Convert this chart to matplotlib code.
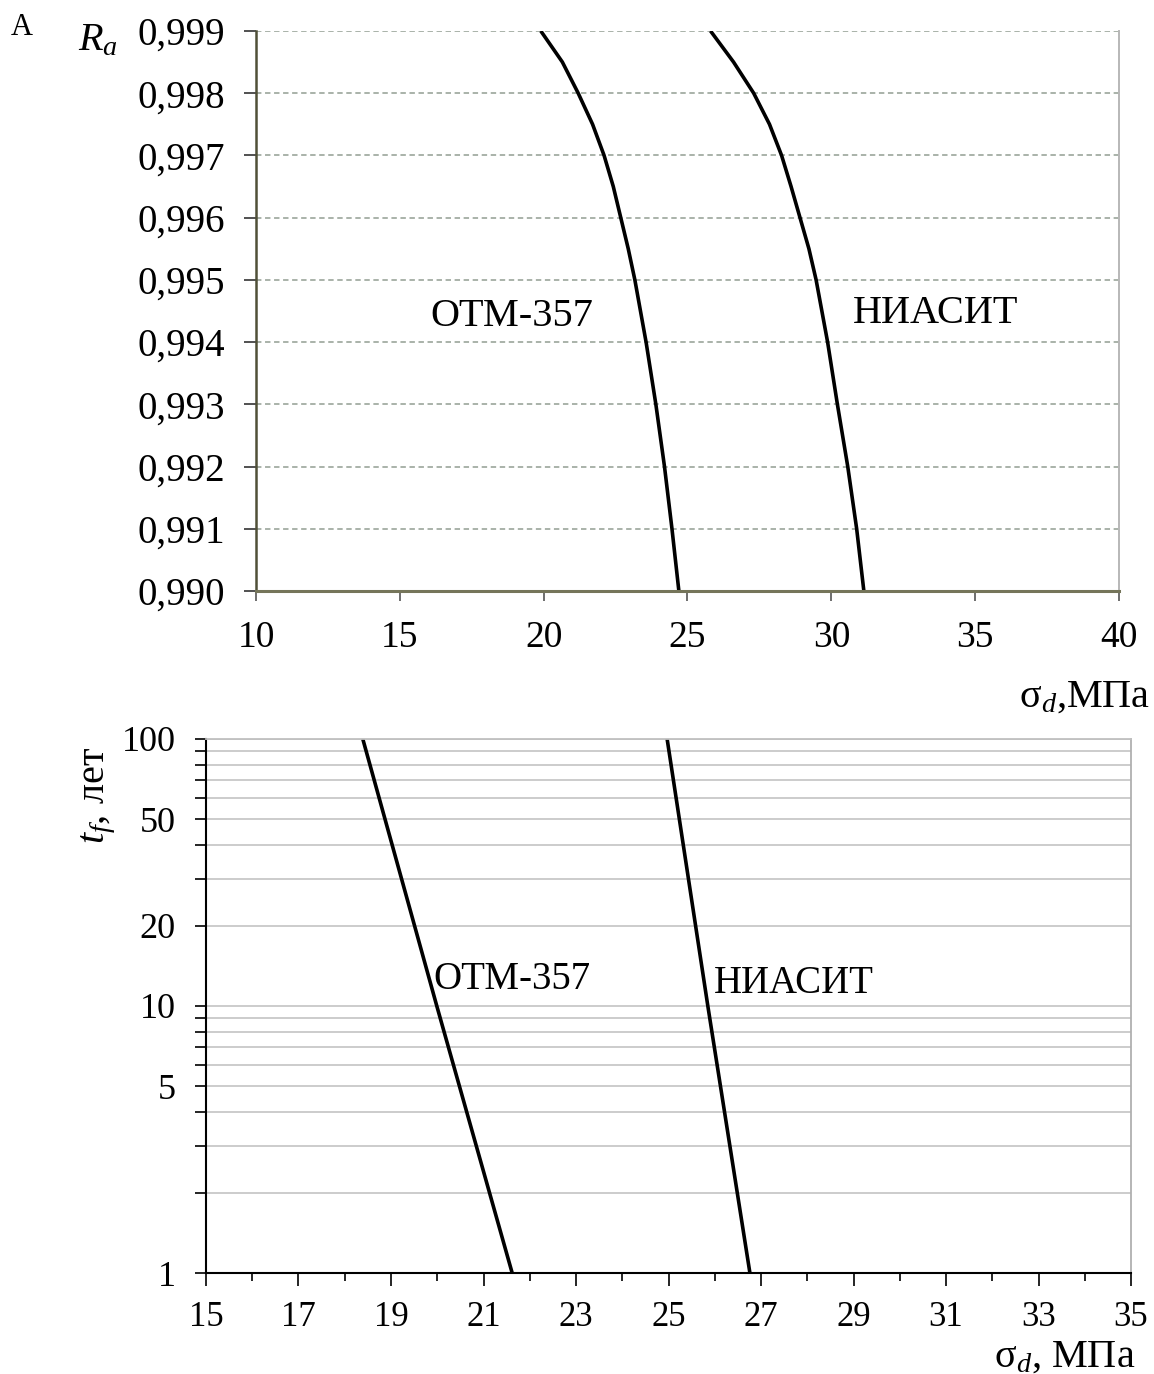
import matplotlib
matplotlib.use('Agg')
import matplotlib.pyplot as plt

plt.rcParams['font.family'] = ['Liberation Serif', 'DejaVu Serif']
plt.rcParams['mathtext.fontset'] = 'custom'
plt.rcParams['mathtext.rm'] = 'Liberation Serif'
plt.rcParams['mathtext.it'] = 'Liberation Serif:italic'

# --- panel A: reliability vs stress ---
ra_levels = [0.999, 0.9985, 0.998, 0.9975, 0.997, 0.9965, 0.996, 0.9955, 0.995, 0.994, 0.993, 0.992, 0.991, 0.990]
otm_stress_top = [19.90, 20.65, 21.20, 21.70, 22.10, 22.42, 22.68, 22.94, 23.17, 23.56, 23.90, 24.20, 24.46, 24.70]
niasit_stress_top = [25.80, 26.60, 27.30, 27.85, 28.27, 28.60, 28.91, 29.22, 29.47, 29.87, 30.21, 30.57, 30.88, 31.13]
top_yticks = [0.990, 0.991, 0.992, 0.993, 0.994, 0.995, 0.996, 0.997, 0.998, 0.999]
top_ylabels = ['0,990', '0,991', '0,992', '0,993', '0,994', '0,995', '0,996', '0,997', '0,998', '0,999']
top_xticks = [10, 15, 20, 25, 30, 35, 40]

# --- panel B: lifetime vs stress ---
life_years = [1, 10, 100]
otm_stress_bot = [21.62, 19.99, 18.39]
niasit_stress_bot = [26.76, 25.85, 24.97]
bot_yticks = [1, 2, 3, 4, 5, 6, 7, 8, 9, 10, 20, 30, 40, 50, 60, 70, 80, 90, 100]
bot_ylabeled = [1, 5, 10, 20, 50, 100]
bot_xticks = [15, 17, 19, 21, 23, 25, 27, 29, 31, 33, 35]
bot_xminor = [16, 18, 20, 22, 24, 26, 28, 30, 32, 34]

fig = plt.figure(figsize=(11.54, 13.74), dpi=100)

# top panel
ax1 = fig.add_axes([0.2218, 0.5699, 0.7479, 0.4076])
ax1.plot(otm_stress_top, ra_levels, color='black', lw=2.6, solid_capstyle='butt', solid_joinstyle='round')
ax1.plot(niasit_stress_top, ra_levels, color='black', lw=2.6, solid_capstyle='butt', solid_joinstyle='round')
ax1.set_xlim(10, 40)
ax1.set_ylim(0.990, 0.999)
ax1.set_yticks(top_yticks)
ax1.set_yticklabels(top_ylabels)
ax1.set_xticks(top_xticks)
ax1.yaxis.grid(True, color='#a3ada3', linestyle=(0, (3, 2)), lw=1.3)
ax1.set_axisbelow(True)
ax1.spines['top'].set_visible(False)
ax1.spines['left'].set_color('#505038')
ax1.spines['left'].set_linewidth(1.8)
ax1.spines['bottom'].set_color('#75755a')
ax1.spines['bottom'].set_linewidth(2.2)
ax1.spines['right'].set_color('#b8b8b8')
ax1.spines['right'].set_linewidth(1.4)
ax1.tick_params(axis='y', direction='out', length=9, width=1.2, pad=13, labelsize=28, color='#333333')
ax1.tick_params(axis='x', direction='out', length=7, width=1.2, pad=14, labelsize=27, color='#555555')
ax1.text(16.05, 0.99426, 'ОТМ-357', fontsize=29, ha='left', va='baseline')
ax1.text(30.75, 0.99431, 'НИАСИТ', fontsize=29, ha='left', va='baseline')

# bottom panel
ax2 = fig.add_axes([0.1785, 0.0735, 0.8016, 0.3887])
ax2.plot(otm_stress_bot, life_years, color='black', lw=2.6, solid_capstyle='butt')
ax2.plot(niasit_stress_bot, life_years, color='black', lw=2.6, solid_capstyle='butt')
ax2.set_yscale('log')
ax2.set_xlim(15, 35)
ax2.set_ylim(1, 100)
ax2.set_yticks(bot_yticks)
ax2.set_yticklabels([str(v) if v in bot_ylabeled else '' for v in bot_yticks])
ax2.yaxis.set_minor_locator(matplotlib.ticker.NullLocator())
ax2.set_xticks(bot_xticks)
ax2.set_xticks(bot_xminor, minor=True)
ax2.yaxis.grid(True, color='#c8c8c8', linestyle='-', lw=1.3)
ax2.set_axisbelow(True)
ax2.spines['left'].set_linewidth(1.5)
ax2.spines['bottom'].set_linewidth(1.5)
ax2.spines['top'].set_color('#c0c0c0')
ax2.spines['top'].set_linewidth(1.3)
ax2.spines['right'].set_color('#b0b0b0')
ax2.spines['right'].set_linewidth(1.3)
ax2.tick_params(axis='y', which='major', direction='out', length=8, width=1.2, pad=14, labelsize=26)
ax2.tick_params(axis='x', which='major', direction='out', length=9, width=1.2, pad=11, labelsize=25)
ax2.tick_params(axis='x', which='minor', direction='out', length=6, width=1.2)
ax2.text(19.91, 11.58, 'ОТМ-357', fontsize=28, ha='left', va='baseline')
ax2.text(25.98, 11.19, 'НИАСИТ', fontsize=28, ha='left', va='baseline')

# labels
fig.text(0.009, 1 - 35 / 1374, 'A', fontsize=22, ha='left', va='baseline')
fig.text(0.068, 1 - 50 / 1374, '$R_a$', fontsize=29, ha='left', va='baseline')
fig.text(0.997, 1 - 707 / 1374, 'σ$_{d}$,МПа', fontsize=29, ha='right', va='baseline')
fig.text(0.984, 1 - 1367 / 1374, 'σ$_{d}$, МПа', fontsize=29, ha='right', va='baseline')
fig.text(0.086, 1 - 796 / 1374, '$t_f$, лет', fontsize=29, rotation=90, ha='center', va='center')

fig.savefig('out.png', dpi=100)
